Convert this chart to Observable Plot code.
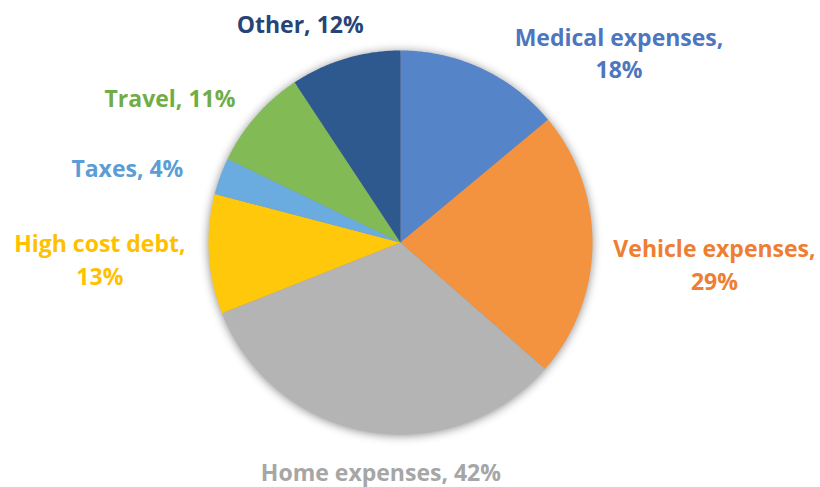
<!DOCTYPE html>
<html>
<head>
<meta charset="utf-8">
<script src="https://cdn.jsdelivr.net/npm/d3@7"></script>
<script src="https://cdn.jsdelivr.net/npm/@observablehq/plot@0.6"></script>
<style>
  html, body { margin: 0; padding: 0; background: #ffffff; }
  #chart svg { display: block; }
  #chart g[aria-label="line"] { filter: drop-shadow(0px 1px 5px rgba(0,0,0,0.45)); }
</style>
</head>
<body>
<div id="chart"></div>
<script>
// ---- data ----
const categories = ["Medical expenses", "Vehicle expenses", "Home expenses", "High cost debt", "Taxes", "Travel", "Other"];
const values = [18, 29, 42, 13, 4, 11, 12];
const lineBreakAfterComma = [true, true, false, true, false, false, false];
const sliceColors = ["#5585C8", "#F3923F", "#B4B4B4", "#FFC80A", "#6AACDF", "#82BA56", "#2E598E"];
const labelColors = ["#4D76BF", "#EE7E32", "#A6A6A6", "#FFC000", "#5C9DD5", "#71AD47", "#264478"];

// ---- layout (label nudges from the slice's outer mid-point, in px) ----
const W = 820, H = 487, R = 192, CX = 400, CY = 242;
const labelNudge = [[137, -17], [122, 18], [13, 39], [-109, 4], [-93, -10], [-86, -20], [-45, -36]];

// ---- build slices ----
const total = d3.sum(values);
let acc = 0;
const slices = categories.map((c, i) => {
  const a0 = acc / total * 2 * Math.PI;
  acc += values[i];
  const a1 = acc / total * 2 * Math.PI;
  return {cat: c, a0, a1, mid: (a0 + a1) / 2, i};
});
const pts = [];
for (const s of slices) {
  pts.push({cat: s.cat, x: 0, y: 0});
  const n = Math.max(2, Math.ceil((s.a1 - s.a0) / (Math.PI / 360)));
  for (let k = 0; k <= n; k++) {
    const a = s.a0 + (s.a1 - s.a0) * k / n;
    pts.push({cat: s.cat, x: Math.sin(a), y: Math.cos(a)});
  }
  pts.push({cat: s.cat, x: 0, y: 0});
}
const labels = slices.map(s => ({
  text: categories[s.i] + "," + (lineBreakAfterComma[s.i] ? "\n" : " ") + values[s.i] + "%",
  x: Math.sin(s.mid) + labelNudge[s.i][0] / R,
  y: Math.cos(s.mid) - labelNudge[s.i][1] / R,
  color: labelColors[s.i]
}));

const chart = Plot.plot({
  width: W,
  height: H,
  margin: 0,
  x: {domain: [-CX / R, (W - CX) / R], axis: null},
  y: {domain: [-(H - CY) / R, CY / R], axis: null},
  color: {domain: categories, range: sliceColors},
  style: {background: "#ffffff"},
  marks: [
    Plot.line(pts, {x: "x", y: "y", z: "cat", fill: "cat", stroke: "none", curve: "linear"}),
    ...labels.map(l => Plot.text([l], {
      x: "x", y: "y", text: "text",
      fill: l.color,
      fontSize: 23,
      fontWeight: "bold",
      fontFamily: "'Open Sans', Lato, sans-serif",
      lineHeight: 1.42,
      textAnchor: "middle",
      lineAnchor: "middle"
    }))
  ]
});
document.getElementById("chart").appendChild(chart);
</script>
</body>
</html>
